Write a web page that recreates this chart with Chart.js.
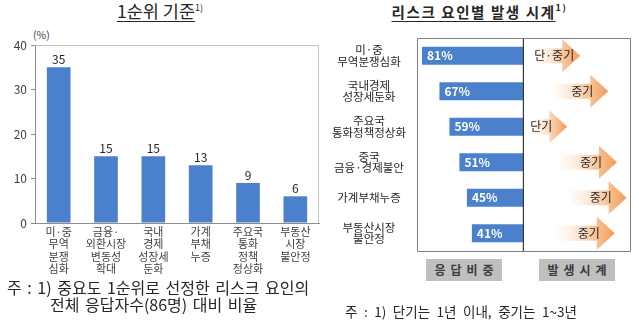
<!DOCTYPE html>
<html>
<head>
<meta charset="utf-8">
<title>리스크 요인</title>
<script src="https://cdn.jsdelivr.net/npm/chart.js@4.4.0/dist/chart.umd.min.js"></script>
<style>
    body {
        margin: 0;
        width: 639px;
        height: 326px;
        position: relative;
        overflow: hidden;
        background: #fff;
        color: #262626;
        font-family: "Noto Sans CJK KR", sans-serif;
    }
    .abs { position: absolute; }
    canvas { position: absolute; }
    .title {
        top: 0;
        font-size: 17.5px;
        line-height: 22px;
        text-align: center;
        white-space: nowrap;
    }
    .title .u { text-decoration: underline; text-underline-offset: 3px; }
    .title sup { font-size: 9px; vertical-align: 7px; line-height: 0; }
    #titleRight { top: 1px; font-weight: bold; font-size: 14.5px; letter-spacing: 1.6px; }
    #unit { left: 33px; top: 27px; font-size: 10.5px; color: #404040; }
    .tag {
        top: 259px;
        width: 76px;
        height: 22px;
        line-height: 22px;
        background: #bfbfbf;
        color: #3a3a3a;
        font-weight: bold;
        font-size: 12px;
        letter-spacing: 5px;
        text-align: center;
        text-indent: 5px;
    }
    .note { font-size: 16px; white-space: nowrap; line-height: 17px; word-spacing: 2px; }
    #noteRight { left: 345px; top: 303px; font-size: 13.5px; word-spacing: 3.5px; }
</style>
</head>
<body>
    <div class="abs title" style="left:0;width:320px;"><span class="u">1순위 기준</span><sup>1)</sup></div>
    <div class="abs title" id="titleRight" style="left:320px;width:319px;"><span class="u">리스크 요인별 발생 시계</span><sup>1)</sup></div>
    <div class="abs" id="unit">(%)</div>

    <canvas id="rankChart" width="320" height="250" style="left:0;top:26px;"></canvas>
    <canvas id="shareChart" width="204" height="261" style="left:320px;top:14px;"></canvas>
    <canvas id="horizonChart" width="109" height="261" style="left:523px;top:14px;"></canvas>

    <div class="abs tag" style="left:426px;">응답비중</div>
    <div class="abs tag" style="left:539px;">발생시계</div>

    <div class="abs note" style="left:7px;top:279px;">주 : 1) 중요도 1순위로 선정한 리스크 요인의</div>
    <div class="abs note" style="left:50px;top:296px;">전체 응답자수(86명) 대비 비율</div>
    <div class="abs note" id="noteRight">주 : 1) 단기는 1년 이내, 중기는 1~3년</div>

<script>
    // 1순위 기준 응답 비율 (%)
    const rankLabels = [
        ['미·중', '무역', '분쟁', '심화'],
        ['금융·', '외환시장', '변동성', '확대'],
        ['국내', '경제', '성장세', '둔화'],
        ['가계', '부채', '누증'],
        ['주요국', '통화', '정책', '정상화'],
        ['부동산', '시장', '불안정']
    ];
    const rankValues = [35, 15, 15, 13, 9, 6];
    const rankTicks = [0, 10, 20, 30, 40];

    // 리스크 요인별 응답 비중 (%)
    const riskLabels = [
        ['미·중', '무역분쟁심화'],
        ['국내경제', '성장세둔화'],
        ['주요국', '통화정책정상화'],
        ['중국', '금융·경제불안'],
        ['가계부채누증'],
        ['부동산시장', '불안정']
    ];
    const shareValues = [81, 67, 59, 51, 45, 41];

    // 발생 시계: 화살표 구간 (0~100 상대 눈금)
    const horizonLabels = ['단·중기', '중기', '단기', '중기', '중기', '중기'];
    const arrowStart = [11, 27, 9, 34, 44, 32];
    const arrowEnd = [53, 79, 41, 87, 96, 85];

    const barBlue = '#4a80cc';
    const fontFamily = '"Noto Sans CJK KR", sans-serif';
    Chart.defaults.font.family = fontFamily;

    // 오른쪽 두 패널이 같은 세로 영역을 쓰도록 맞춘 여백
    const panelPad = { top: 24, bottom: 24, left: 0, right: 1 };

    // 왼쪽 차트 상단/우측 테두리
    const rankFrame = {
        id: 'rankFrame',
        beforeDatasetsDraw(chart) {
            const { ctx, chartArea: a } = chart;
            ctx.save();
            ctx.strokeStyle = '#c4c4c4';
            ctx.lineWidth = 1;
            ctx.beginPath();
            ctx.moveTo(Math.round(a.left) + 0.5, Math.round(a.top) + 0.5);
            ctx.lineTo(Math.round(a.right) - 0.5, Math.round(a.top) + 0.5);
            ctx.lineTo(Math.round(a.right) - 0.5, Math.round(a.bottom));
            ctx.stroke();
            ctx.restore();
        }
    };

    // 막대 위 수치
    const rankValueLabels = {
        id: 'rankValueLabels',
        afterDatasetsDraw(chart) {
            const { ctx } = chart;
            const meta = chart.getDatasetMeta(0);
            ctx.save();
            ctx.fillStyle = '#262626';
            ctx.font = '12px ' + fontFamily;
            ctx.textAlign = 'center';
            ctx.textBaseline = 'middle';
            meta.data.forEach((bar, i) => {
                ctx.fillText(rankValues[i], bar.x, bar.y - 8);
            });
            ctx.restore();
        }
    };

    new Chart(document.getElementById('rankChart'), {
        type: 'bar',
        data: {
            labels: rankLabels,
            datasets: [{
                data: rankValues,
                backgroundColor: barBlue,
                barPercentage: 0.5,
                categoryPercentage: 1
            }]
        },
        options: {
            responsive: false,
            animation: false,
            layout: { padding: { top: 19, right: 1, left: 0, bottom: 0 } },
            plugins: { legend: { display: false }, tooltip: { enabled: false } },
            scales: {
                x: {
                    grid: { display: false, drawTicks: false },
                    border: { color: '#8c8c8c' },
                    ticks: {
                        color: '#404040',
                        font: { size: 11, lineHeight: 1.15 },
                        maxRotation: 0,
                        autoSkip: false,
                        padding: 2
                    },
                    afterFit(scale) { scale.height = 53; }
                },
                y: {
                    min: rankTicks[0],
                    max: rankTicks[rankTicks.length - 1],
                    afterBuildTicks(scale) { scale.ticks = rankTicks.map(v => ({ value: v })); },
                    grid: { drawOnChartArea: false, tickLength: 4, color: '#8c8c8c' },
                    border: { color: '#8c8c8c' },
                    ticks: { color: '#404040', font: { size: 12 }, padding: 4 },
                    afterFit(scale) { scale.width = 35; }
                }
            }
        },
        plugins: [rankFrame, rankValueLabels]
    });

    // 응답 비중 패널 테두리 (오른쪽 선은 구분선)
    const shareFrame = {
        id: 'shareFrame',
        afterDatasetsDraw(chart) {
            const { ctx, chartArea: a } = chart;
            const l = Math.round(a.left) + 0.5, r = Math.round(a.right) + 0.5;
            const t = Math.round(a.top) + 0.5, b = Math.round(a.bottom) + 0.5;
            ctx.save();
            ctx.lineWidth = 1;
            ctx.strokeStyle = '#808080';
            ctx.beginPath();
            ctx.moveTo(r, t); ctx.lineTo(l, t); ctx.lineTo(l, b); ctx.lineTo(r, b);
            ctx.stroke();
            ctx.strokeStyle = '#3a3a3a';
            ctx.lineWidth = 1.4;
            ctx.beginPath();
            ctx.moveTo(r, t); ctx.lineTo(r, b);
            ctx.stroke();
            ctx.restore();
        }
    };

    // 막대 안 흰색 비율 표시
    const shareValueLabels = {
        id: 'shareValueLabels',
        afterDatasetsDraw(chart) {
            const { ctx } = chart;
            const meta = chart.getDatasetMeta(0);
            ctx.save();
            ctx.fillStyle = '#ffffff';
            ctx.font = 'bold 12px ' + fontFamily;
            ctx.textAlign = 'left';
            ctx.textBaseline = 'middle';
            meta.data.forEach((bar, i) => {
                ctx.fillText(shareValues[i] + '%', Math.min(bar.x, bar.base) + 5, bar.y);
            });
            ctx.restore();
        }
    };

    new Chart(document.getElementById('shareChart'), {
        type: 'bar',
        data: {
            labels: riskLabels,
            datasets: [{
                data: shareValues,
                backgroundColor: barBlue,
                barPercentage: 0.51,
                categoryPercentage: 1
            }]
        },
        options: {
            indexAxis: 'y',
            responsive: false,
            animation: false,
            layout: { padding: panelPad },
            plugins: { legend: { display: false }, tooltip: { enabled: false } },
            scales: {
                x: { display: false, reverse: true, min: 0, max: 85 },
                y: {
                    grid: { display: false, drawTicks: false },
                    border: { display: false },
                    ticks: {
                        crossAlign: 'center',
                        padding: 11,
                        color: '#262626',
                        font: { size: 11.5, lineHeight: 0.98 }
                    },
                    afterFit(scale) { scale.width = 97; }
                }
            }
        },
        plugins: [shareFrame, shareValueLabels]
    });

    // 발생 시계 패널 테두리
    const horizonFrame = {
        id: 'horizonFrame',
        beforeDatasetsDraw(chart) {
            const { ctx, chartArea: a } = chart;
            const l = Math.round(a.left), r = Math.round(a.right) - 0.5;
            const t = Math.round(a.top) + 0.5, b = Math.round(a.bottom) + 0.5;
            ctx.save();
            ctx.lineWidth = 1;
            ctx.strokeStyle = '#808080';
            ctx.beginPath();
            ctx.moveTo(l, t); ctx.lineTo(r, t); ctx.lineTo(r, b); ctx.lineTo(l, b);
            ctx.stroke();
            ctx.restore();
        }
    };

    // 그라데이션 화살표와 시계 표시
    const horizonArrows = {
        id: 'horizonArrows',
        afterDatasetsDraw(chart) {
            const { ctx } = chart;
            const meta = chart.getDatasetMeta(0);
            ctx.save();
            meta.data.forEach((el, i) => {
                const x0 = Math.min(el.x, el.base);
                const x1 = Math.max(el.x, el.base);
                const yc = el.y;
                const headH = el.height / 2;
                const bodyH = el.height * 0.23;
                const headL = 18;
                const grad = ctx.createLinearGradient(x0, 0, x1, 0);
                grad.addColorStop(0, 'rgba(253, 236, 222, 0.15)');
                grad.addColorStop(0.55, '#fad0ac');
                grad.addColorStop(1, '#f39c58');
                ctx.fillStyle = grad;
                ctx.beginPath();
                ctx.moveTo(x0, yc - bodyH);
                ctx.lineTo(x1 - headL, yc - bodyH);
                ctx.lineTo(x1 - headL, yc - headH);
                ctx.lineTo(x1, yc);
                ctx.lineTo(x1 - headL, yc + headH);
                ctx.lineTo(x1 - headL, yc + bodyH);
                ctx.lineTo(x0, yc + bodyH);
                ctx.closePath();
                ctx.fill();

                ctx.fillStyle = '#262626';
                ctx.font = '12px ' + fontFamily;
                ctx.textAlign = 'center';
                ctx.textBaseline = 'middle';
                ctx.fillText(horizonLabels[i], x1 - 26, yc);
            });
            ctx.restore();
        }
    };

    new Chart(document.getElementById('horizonChart'), {
        type: 'bar',
        data: {
            labels: riskLabels,
            datasets: [{
                data: arrowStart.map((s, i) => [s, arrowEnd[i]]),
                backgroundColor: 'rgba(0, 0, 0, 0)',
                barPercentage: 0.93,
                categoryPercentage: 1
            }]
        },
        options: {
            indexAxis: 'y',
            responsive: false,
            animation: false,
            layout: { padding: panelPad },
            plugins: { legend: { display: false }, tooltip: { enabled: false } },
            scales: {
                x: { display: false, min: 0, max: 100 },
                y: { display: false }
            }
        },
        plugins: [horizonFrame, horizonArrows]
    });
</script>
</body>
</html>
